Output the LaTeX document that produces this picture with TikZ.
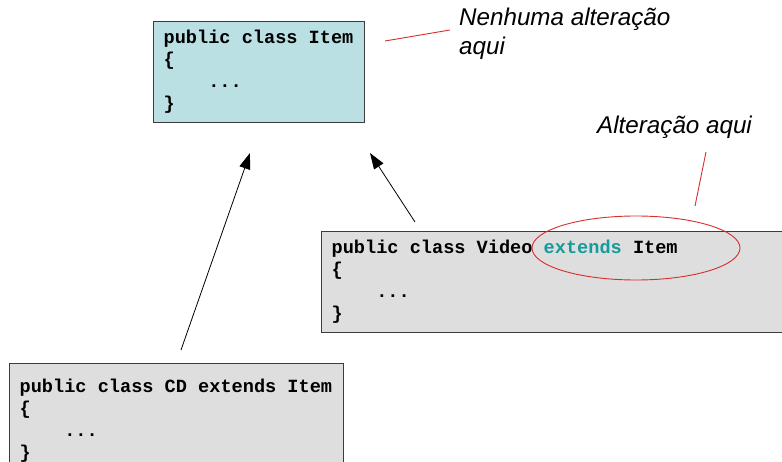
\documentclass[tikz,border=0pt]{standalone}
\usepackage{fontspec}
\usetikzlibrary{arrows.meta,positioning,calc,shapes.geometric}
\newfontfamily\codefont{Liberation Mono}
\newfontfamily\notefont{Liberation Sans}
\definecolor{ItemCyan}{HTML}{BBE0E3}
\definecolor{CodeGray}{HTML}{DEDEDE}
\definecolor{BoxLine}{HTML}{3C3C3C}
\definecolor{KeyTeal}{RGB}{20,155,155}
\definecolor{NoteRed}{RGB}{215,45,45}

\tikzset{
  codebox/.style={draw=BoxLine,line width=1.3pt,anchor=north west,
    inner xsep=10pt,inner ysep=6.5pt,text width=#1,minimum height=100pt,
    font=\codefont\bfseries\fontsize{18.6}{22}\selectfont,
    execute at begin node={\spaceskip=0.6em\xspaceskip=0.6em\relax}},
  note/.style={anchor=base west,align=left,inner sep=0pt,
    font=\notefont\itshape\fontsize{24.2}{29}\selectfont},
  redline/.style={NoteRed,line width=0.9pt},
}
\newcommand{\tabin}{\hspace*{2.4em}}

\begin{document}
\begin{tikzpicture}[x=1pt,y=-1pt,>={Triangle[length=16pt,width=11pt]}]
  \useasboundingbox (0,0) rectangle (782,462);
  \node[codebox=191pt,fill=ItemCyan] (item) at (153,21)
    {\strut public class Item\\\{\\\tabin...\\\}\strut};
  \node[codebox=460pt,fill=CodeGray] (video) at (321,231)
    {\strut public class Video \textcolor{KeyTeal}{extends} Item\\\{\\\tabin...\\\}\strut};
  \node[codebox=314pt,fill=CodeGray,minimum height=115pt] (cd) at (9,363)
    {\strut public class CD extends Item\\\{\\\tabin...\\\}\strut};

  % inheritance arrows
  \coordinate (cdtail) at (181,350);
  \coordinate (cdhead) at (250,153);
  \coordinate (vidtail) at (415,222);
  \coordinate (vidhead) at (370,153);
  \draw[->,line width=0.8pt] (cdtail) -- (cdhead);
  \draw[->,line width=0.8pt] (vidtail) -- (vidhead);

  % notes (base anchor sits on the last line)
  \node[note] (nochange) at (459,55) {Nenhuma altera\c{c}\~ao\\aqui};
  \node[note] (change) at (597,134) {Altera\c{c}\~ao aqui};
  \node[draw=NoteRed,line width=0.9pt,ellipse,minimum width=208pt,minimum height=64pt,
    inner sep=0pt] (ring) at (636,248) {};
  \coordinate (nocA) at (385,41);
  \coordinate (nocB) at (450,30);
  \coordinate (chA) at (706,152);
  \coordinate (chB) at (695,206);
  \draw[redline] (nocA) -- (nocB);
  \draw[redline] (chA) -- (chB);
\end{tikzpicture}
\end{document}
